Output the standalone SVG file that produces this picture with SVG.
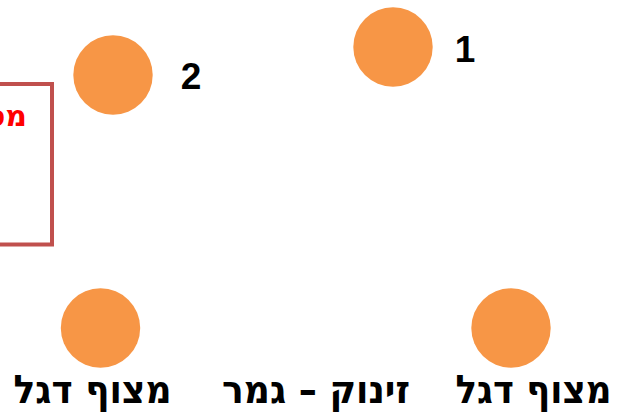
<svg xmlns="http://www.w3.org/2000/svg" width="618" height="412" viewBox="0 0 618 412">
  <style>
    .buoy { fill: #F79646; }
    .num { font-family: "Liberation Sans", Arial, sans-serif; font-weight: bold; font-size: 37px; fill: #000; text-anchor: middle; }
    .lbl { font-family: "DejaVu Sans", "Liberation Sans", sans-serif; font-weight: bold; font-size: 39px; fill: #000; text-anchor: middle; }
    .note { font-family: "DejaVu Sans", "Liberation Sans", sans-serif; font-weight: bold; font-size: 30px; fill: #FF0000; }
  </style>
  <rect width="618" height="412" fill="#FFFFFF"/>
  <g id="note-box">
    <rect x="-60" y="84" width="112" height="160.5" fill="none" stroke="#C0504D" stroke-width="4"/>
    <text class="note" x="27" y="126" text-anchor="start" direction="rtl">מס</text>
  </g>
  <g id="connectors"></g>
  <g id="buoy-1">
    <circle class="buoy" cx="393" cy="47" r="39.7"/>
    <text class="num" x="465" y="62">1</text>
  </g>
  <g id="buoy-2">
    <circle class="buoy" cx="113" cy="75" r="39.7"/>
    <text class="num" x="191" y="89">2</text>
  </g>
  <g id="flag-buoy-left">
    <circle class="buoy" cx="100.5" cy="328" r="39.7"/>
    <text class="lbl" x="92.5" y="403" direction="rtl" textLength="158" lengthAdjust="spacingAndGlyphs">מצוף דגל</text>
  </g>
  <g id="start-finish">
    <text class="lbl" x="316" y="403" direction="rtl" textLength="188" lengthAdjust="spacingAndGlyphs">זינוק – גמר</text>
  </g>
  <g id="flag-buoy-right">
    <circle class="buoy" cx="511" cy="328" r="39.7"/>
    <text class="lbl" x="533.5" y="403" direction="rtl" textLength="156" lengthAdjust="spacingAndGlyphs">מצוף דגל</text>
  </g>
</svg>
